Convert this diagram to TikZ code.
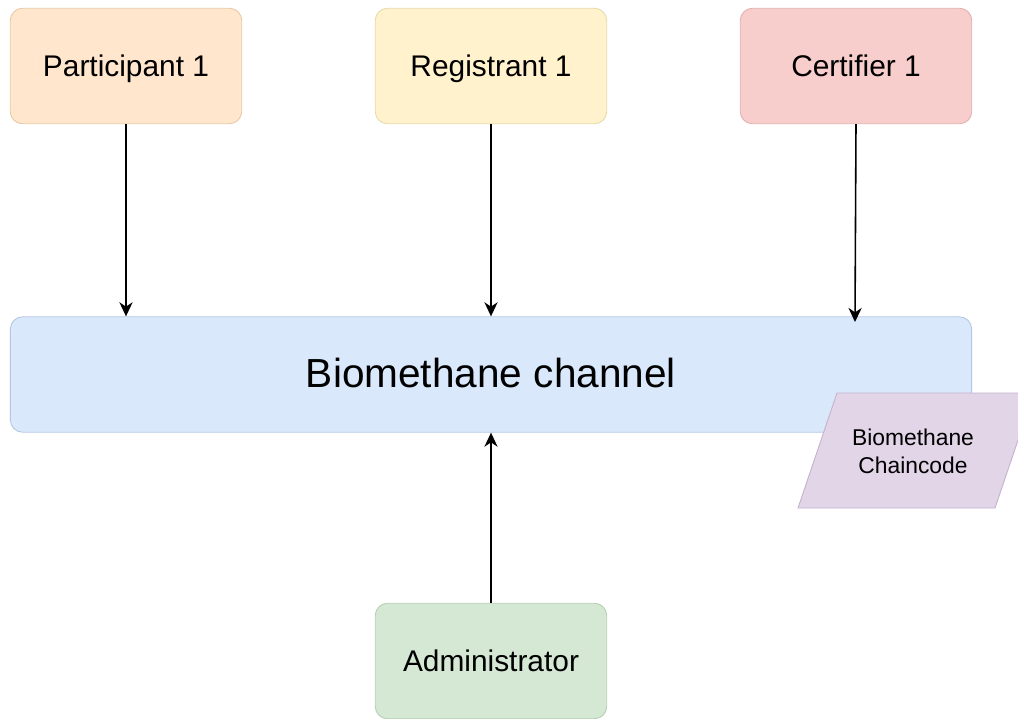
\documentclass[tikz,border=0pt]{standalone}
\usepackage{fontspec}
\setmainfont{Liberation Sans}
\usetikzlibrary{arrows.meta}
\definecolor{partfill}{HTML}{FFE6CC}
\definecolor{partline}{HTML}{E6C9A6}
\definecolor{regfill}{HTML}{FFF2CC}
\definecolor{regline}{HTML}{E8D9A8}
\definecolor{certfill}{HTML}{F8CECC}
\definecolor{certline}{HTML}{E0AFAD}
\definecolor{chanfill}{HTML}{DAE8FC}
\definecolor{chanline}{HTML}{B3C6E2}
\definecolor{adminfill}{HTML}{D5E8D4}
\definecolor{adminline}{HTML}{B5CFB3}
\definecolor{codefill}{HTML}{E1D5E7}
\definecolor{codeline}{HTML}{C3B2CC}
\begin{document}
\begin{tikzpicture}[x=0.02cm,y=-0.02cm,
  box/.style={draw,rounded corners=7pt,line width=0.5pt,inner sep=0pt,
    minimum width=4.63cm,minimum height=2.31cm,font=\fontsize{17}{20}\selectfont,
    text height=14.5pt,text depth=2pt},
  flow/.style={-{Stealth[length=8pt,width=7.5pt,inset=2.5pt]},line width=0.9pt}]
\useasboundingbox (0,0) rectangle (1018,718);
\clip (0,0) rectangle (1018,718);

\node[box,fill=partfill,draw=partline] (part) at (126,66) {Participant 1};
\node[box,fill=regfill,draw=regline] (reg) at (491,66) {Registrant 1};
\node[box,fill=certfill,draw=certline] (cert) at (856,66) {Certifier 1};

\node[box,fill=chanfill,draw=chanline,minimum width=19.23cm,
  font=\fontsize{23.1}{26}\selectfont,text height=19pt,text depth=4.5pt] (chan) at (491,374.5) {Biomethane channel};

\filldraw[fill=codefill,draw=codeline,line width=0.5pt]
  (837,393) -- (1034,393) -- (995,508) -- (798,508) -- cycle;
\node[align=center,font=\fontsize{13}{15.9}\selectfont] (code) at (913,451) {Biomethane\\Chaincode};

\node[box,fill=adminfill,draw=adminline] (admin) at (491,661) {Administrator};

\coordinate (certend) at (855,322);
\draw[flow] (part.south) -- (part.south |- chan.north);
\draw[flow] (reg.south) -- (reg.south |- chan.north);
\draw[flow] (cert.south) -- (certend);
\draw[flow] (admin.north) -- (admin.north |- chan.south);
\end{tikzpicture}
\end{document}
